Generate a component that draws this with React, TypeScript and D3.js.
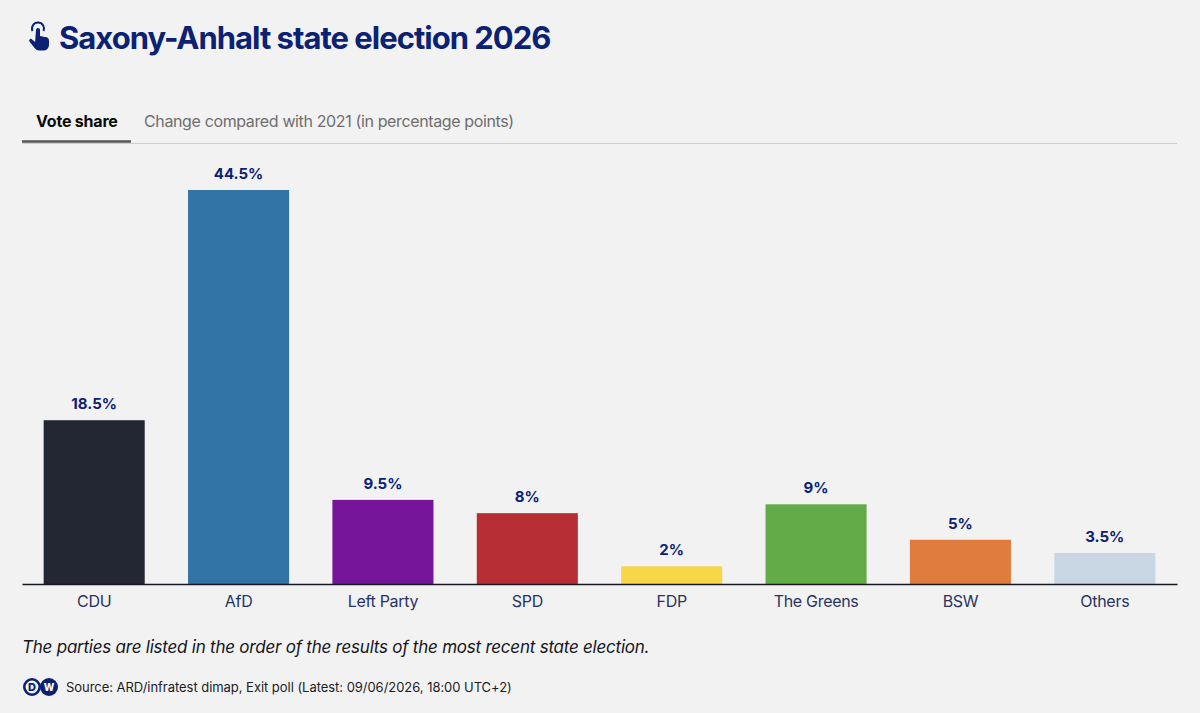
import { useEffect, useRef } from 'react';
import * as d3 from 'd3';

const parties = ['CDU', 'AfD', 'Left Party', 'SPD', 'FDP', 'The Greens', 'BSW', 'Others'];
const shares = [18.5, 44.5, 9.5, 8, 2, 9, 5, 3.5];
const barColors = ['#232733', '#3174a5', '#76149a', '#b72d34', '#f7d648', '#62ab48', '#e07d3e', '#c9d7e5'];

const title = 'Saxony-Anhalt state election 2026';
const tabs = ['Vote share', 'Change compared with 2021 (in percentage points)'];
const note = 'The parties are listed in the order of the results of the most recent state election.';
const source = 'Source: ARD/infratest dimap, Exit poll (Latest: 09/06/2026, 18:00 UTC+2)';

const width = 1200;
const height = 713;
const navy = '#0b2273';
const font = 'Inter, "Noto Sans", sans-serif';

const App = () => {
    const ref = useRef<SVGSVGElement>(null);

    useEffect(() => {
        const svg = d3.select(ref.current);
        svg.selectAll('*').remove();

        svg.append('rect').attr('width', width).attr('height', height).attr('fill', '#f3f2f3');

        // title with the little tap icon
        const icon = svg.append('g').attr('transform', 'translate(28,24)').attr('fill', navy);
        icon.append('path')
            .attr('d', 'M4.5 7 a6 6 0 1 1 11 0')
            .attr('fill', 'none')
            .attr('stroke', navy)
            .attr('stroke-width', 2);
        icon.append('path')
            .attr('d', 'M8 6 a2 2 0 0 1 4 0 v6 l5 1 a4 4 0 0 1 4 4 v4 a5.5 5.5 0 0 1 -5.5 5.5 h-4 a6 6 0 0 1 -5 -2.5 l-5 -6.5 a1.6 1.6 0 0 1 2.6 -2 l3 2.5 z');

        svg.append('text')
            .attr('x', 59)
            .attr('y', 49)
            .attr('fill', navy)
            .style('font-family', font)
            .style('font-size', '31px')
            .style('font-weight', 700)
            .style('letter-spacing', '-1px')
            .text(title);

        // tabs
        svg.append('text')
            .attr('x', 36)
            .attr('y', 127)
            .attr('fill', '#0a0a0a')
            .style('font-family', font)
            .style('font-size', '16px')
            .style('font-weight', 700)
            .style('letter-spacing', '-0.2px')
            .text(tabs[0]);
        svg.append('text')
            .attr('x', 144)
            .attr('y', 127)
            .attr('fill', '#6e6e6e')
            .style('font-family', font)
            .style('font-size', '16px')
            .style('letter-spacing', '-0.37px')
            .text(tabs[1]);
        svg.append('line')
            .attr('x1', 22).attr('x2', 1177).attr('y1', 143.5).attr('y2', 143.5)
            .attr('stroke', '#cfcfcf').attr('stroke-width', 1.2);
        svg.append('line')
            .attr('x1', 22).attr('x2', 131).attr('y1', 141.5).attr('y2', 141.5)
            .attr('stroke', '#555555').attr('stroke-width', 2.5);

        // chart
        const x = d3.scaleBand()
            .domain(parties)
            .range([22, 1177])
            .paddingInner(0.3)
            .paddingOuter(0.15);
        const y = d3.scaleLinear().domain([0, 44.5]).range([584, 190]);

        const color = d3.scaleOrdinal<string>().domain(parties).range(barColors);
        const data = parties.map((p, i) => ({ party: p, share: shares[i] }));

        svg.selectAll('.bar')
            .data(data)
            .enter()
            .append('rect')
            .attr('class', 'bar')
            .attr('x', (d: any) => x(d.party))
            .attr('y', (d: any) => y(d.share))
            .attr('width', x.bandwidth())
            .attr('height', (d: any) => y(0) - y(d.share))
            .attr('fill', (d: any) => color(d.party));

        svg.selectAll('.value')
            .data(data)
            .enter()
            .append('text')
            .attr('class', 'value')
            .attr('x', (d: any) => x(d.party)! + x.bandwidth() / 2)
            .attr('y', (d: any) => y(d.share) - 11)
            .attr('text-anchor', 'middle')
            .attr('fill', navy)
            .style('font-family', font)
            .style('font-size', '15px')
            .style('font-weight', 700)
            .text((d: any) => d.share + '%');

        const axis = svg.append('g')
            .attr('transform', 'translate(0,584)')
            .call(d3.axisBottom(x).tickSize(0).tickPadding(12) as any);
        axis.select('.domain').attr('stroke', '#15181f').attr('stroke-width', 1.4);
        axis.selectAll('text')
            .attr('fill', '#27345f')
            .style('font-family', font)
            .style('font-size', '16px')
            .style('letter-spacing', '-0.3px');

        // footer
        svg.append('text')
            .attr('x', 22)
            .attr('y', 653)
            .attr('fill', '#14161c')
            .style('font-family', font)
            .style('font-size', '17px')
            .style('font-style', 'italic')
            .style('letter-spacing', '-0.23px')
            .text(note);

        const logo = svg.append('g').attr('transform', 'translate(23,678)');
        logo.append('circle').attr('cx', 9).attr('cy', 9).attr('r', 7.7)
            .attr('fill', '#f3f2f3').attr('stroke', navy).attr('stroke-width', 2.6);
        logo.append('circle').attr('cx', 26).attr('cy', 9).attr('r', 9).attr('fill', navy);
        logo.append('text').attr('x', 9).attr('y', 13).attr('text-anchor', 'middle')
            .attr('fill', navy)
            .style('font-family', font).style('font-size', '11px').style('font-weight', 800)
            .text('D');
        logo.append('text').attr('x', 26).attr('y', 13).attr('text-anchor', 'middle')
            .attr('fill', '#ffffff')
            .style('font-family', font).style('font-size', '10px').style('font-weight', 800)
            .text('W');

        svg.append('text')
            .attr('x', 66)
            .attr('y', 692)
            .attr('fill', '#1a1c24')
            .style('font-family', font)
            .style('font-size', '13px')
            .style('letter-spacing', '-0.04px')
            .text(source);
    }, []);

    return (
        <svg
            ref={ref}
            width={width}
            height={height}
            style={{ position: 'absolute', left: 0, top: 0, display: 'block' }}
        />
    );
};

export default App;
